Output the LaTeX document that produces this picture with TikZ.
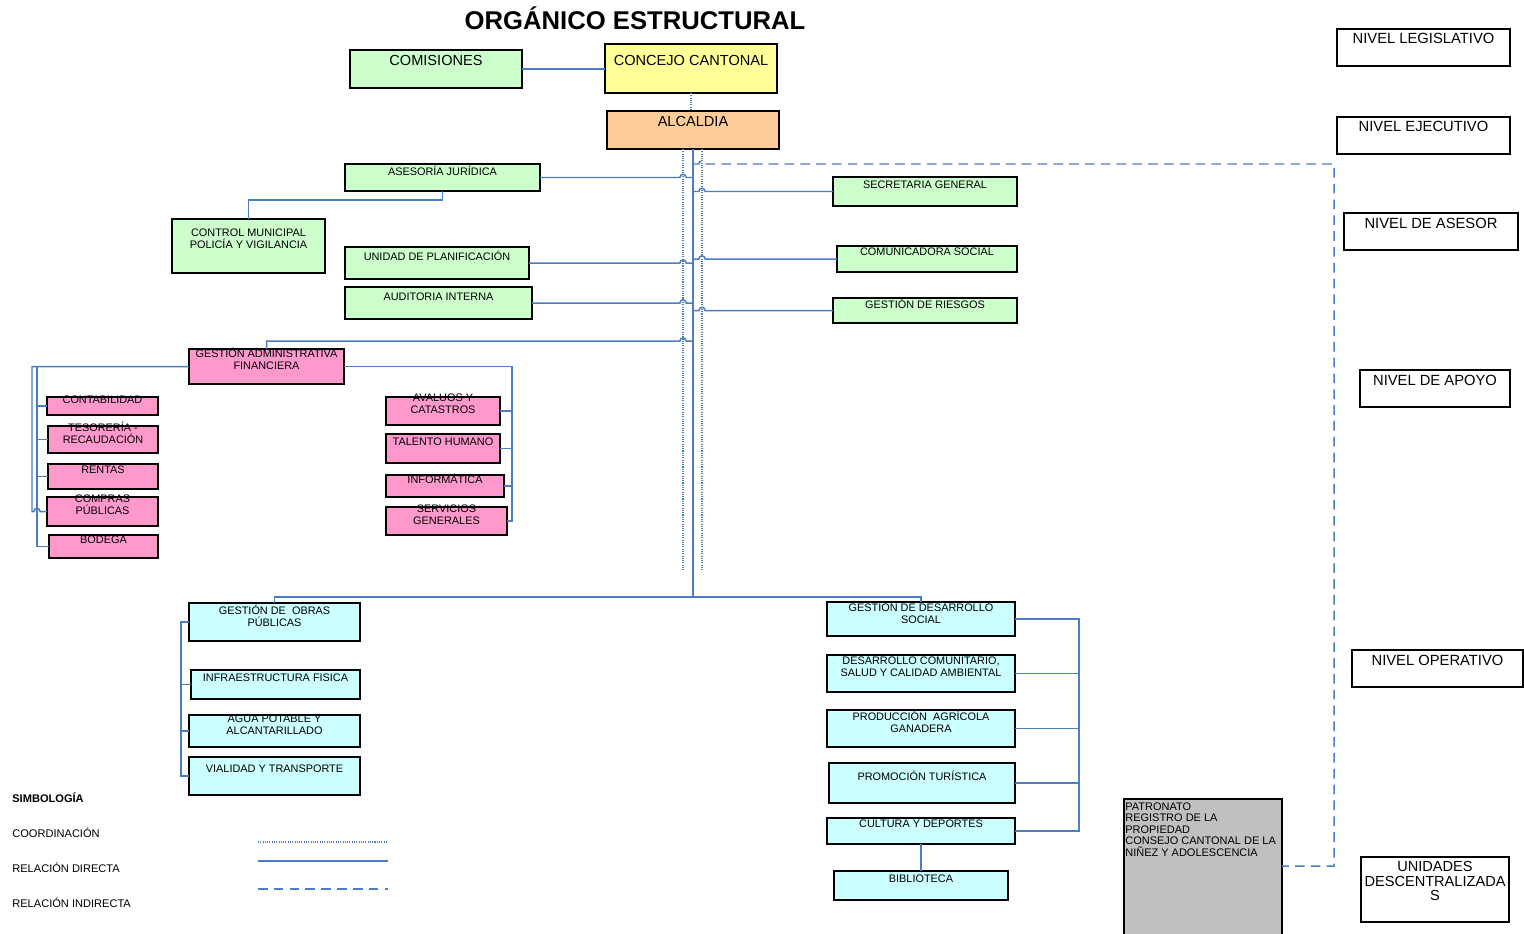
\documentclass[tikz,border=0pt]{standalone}
\usepackage{fontspec}
\setmainfont{Liberation Sans}
\usetikzlibrary{fit,calc}

\definecolor{verde}{RGB}{204,255,204}
\definecolor{rosa}{RGB}{255,153,204}
\definecolor{celeste}{RGB}{204,255,255}
\definecolor{amarillo}{RGB}{255,255,153}
\definecolor{melon}{RGB}{255,204,153}
\definecolor{gris}{RGB}{192,192,192}
\definecolor{azul}{RGB}{74,126,193}

\tikzset{
  caja/.style={draw=black,line width=.8pt,inner sep=0pt,outer sep=0pt},
  txt/.style={font=\fontsize{6.2}{6.8}\selectfont,align=center,inner sep=0pt},
  grande/.style={font=\fontsize{8.3}{9.5}\selectfont},
  nivel/.style={font=\fontsize{8.4}{9.5}\selectfont},
  leyenda/.style={font=\fontsize{6.3}{7}\selectfont},
  directa/.style={azul,line width=.85pt},
  coord/.style={azul,line width=.7pt,dash pattern=on .6pt off .7pt},
  indirecta/.style={azul,line width=.85pt,dash pattern=on 5.5pt off 3.5pt},
}

% caja: [texto]{nombre}{relleno}{x1}{y1}{x2}{y2}{y del texto}{texto}
\newcommand{\caja}[9][]{%
  \node[caja,fill=#3,fit={(#4,#5) (#6,#7)}] (#2) {};
  \node[txt,#1] (#2t) at (#2.center |- 0,#8) {#9};}

\begin{document}
\begin{tikzpicture}[x=.02cm,y=-.02cm]
      \useasboundingbox (0,0) rectangle (1524,933);
      \fill[white] (0,0) rectangle (1524,933);
      \node[font=\fontsize{14.6}{17}\selectfont\bfseries] (titulo) at (635,18) {ORGÁNICO ESTRUCTURAL};

      \caja[grande]{comisiones}{verde}{350}{50}{522}{88}{60}{COMISIONES}
      \caja[grande]{concejo}{amarillo}{605}{44}{777}{93}{60}{CONCEJO CANTONAL}
      \caja[grande]{alcaldia}{melon}{607}{111}{779}{149}{121}{ALCALDIA}

      \caja{asesoria}{verde}{345}{164}{540}{191}{171}{ASESORÍA JURÍDICA}
      \caja{control}{verde}{172}{219}{325}{273}{239}{CONTROL MUNICIPAL\\POLICÍA Y VIGILANCIA}
      \caja{planificacion}{verde}{345}{247}{529}{279}{256}{UNIDAD DE PLANIFICACIÓN}
      \caja{auditoria}{verde}{345}{287}{532}{319}{297}{AUDITORIA INTERNA}
      \caja{secretaria}{verde}{833}{177}{1017}{206}{185}{SECRETARIA GENERAL}
      \caja{comunicadora}{verde}{837}{246}{1017}{272}{252}{COMUNICADORA SOCIAL}
      \caja{riesgos}{verde}{833}{298}{1017}{323}{304}{GESTIÓN DE RIESGOS}

      \caja{gaf}{rosa}{189}{349}{344}{384}{359}{GESTIÓN ADMINISTRATIVA\\FINANCIERA}
      \caja{contabilidad}{rosa}{47}{397}{158}{415}{400}{CONTABILIDAD}
      \caja{tesoreria}{rosa}{48}{426}{158}{453}{433}{TESORERÍA -\\RECAUDACIÓN}
      \caja{rentas}{rosa}{48}{464}{158}{489}{470}{RENTAS}
      \caja{compras}{rosa}{47}{497}{158}{526}{505}{COMPRAS\\PÚBLICAS}
      \caja{bodega}{rosa}{49}{535}{158}{558}{540}{BODEGA}
      \caja{avaluos}{rosa}{386}{397}{500}{425}{404}{AVALUOS Y\\CATASTROS}
      \caja{talento}{rosa}{386}{434}{500}{463}{442}{TALENTO HUMANO}
      \caja{informatica}{rosa}{386}{475}{504}{497}{479}{INFORMÁTICA}
      \caja{servicios}{rosa}{386}{507}{507}{535}{514.5}{SERVICIOS\\GENERALES}

      \caja{obras}{celeste}{189}{603}{360}{641}{616}{GESTIÓN DE\ \ OBRAS\\PÚBLICAS}
      \caja{infraestructura}{celeste}{191}{670}{360}{699}{678}{INFRAESTRUCTURA FISICA}
      \caja{agua}{celeste}{189}{715}{360}{747}{725}{AGUA POTABLE Y\\ALCANTARILLADO}
      \caja{vialidad}{celeste}{189}{757}{360}{795}{769}{VIALIDAD Y TRANSPORTE}
      \caja{desarrollo}{celeste}{827}{602}{1015}{636}{613}{GESTIÓN DE DESARROLLO\\SOCIAL}
      \caja{comunitario}{celeste}{827}{655}{1015}{692}{666.5}{DESARROLLO COMUNITARIO,\\SALUD Y CALIDAD AMBIENTAL}
      \caja{produccion}{celeste}{827}{710}{1015}{747}{722}{PRODUCCIÓN\ \ AGRÍCOLA\\GANADERA}
      \caja{promocion}{celeste}{829}{763}{1015}{803}{776}{PROMOCIÓN TURÍSTICA}
      \caja{cultura}{celeste}{827}{818}{1015}{844}{824}{CULTURA Y DEPORTES}
      \caja{biblioteca}{celeste}{834}{871}{1008}{900}{879}{BIBLIOTECA}

      \node[caja,fill=gris,fit={(1124,799) (1282,940)}] (patronato) {};
      \node[txt,align=left,anchor=west,font=\fontsize{6.25}{6.6}\selectfont] (patronatot) at (1125,829.5)
        {PATRONATO\\REGISTRO DE LA\\PROPIEDAD\\CONSEJO CANTONAL DE LA\\NIÑEZ Y ADOLESCENCIA};

      \caja[nivel]{legislativo}{white}{1337}{29}{1510}{66}{38}{NIVEL LEGISLATIVO}
      \caja[nivel]{ejecutivo}{white}{1337}{117}{1510}{154}{126}{NIVEL EJECUTIVO}
      \caja[nivel]{asesor}{white}{1344}{213}{1518}{250}{223}{NIVEL DE ASESOR}
      \caja[nivel]{apoyo}{white}{1360}{370}{1510}{407}{380}{NIVEL DE APOYO}
      \caja[nivel]{operativo}{white}{1352}{650}{1523}{687}{660}{NIVEL OPERATIVO}
      \caja[font=\fontsize{8.3}{8.5}\selectfont]{descentralizadas}{white}{1361}{857}{1509}{922}{881}{UNIDADES\\DESCENTRALIZADA\\S}

      % ejes
      \coordinate (punteadoL) at (683,149);
      \coordinate (punteadoR) at (702,149);
      \coordinate (esquina) at (1334,164);
      \coordinate (ejeA) at (37,0);
      \coordinate (ejeB) at (32,0);
      \coordinate (ejeC) at (512,0);
      \coordinate (ejeD) at (181,0);
      \coordinate (ejeE) at (1079,0);

      \draw[directa] (comisiones.east) -- (concejo.west |- comisiones.east);%comisiones-concejo
      \draw[coord] (concejo.south) -- (concejo.south |- alcaldia.north);%concejo-alcaldia
      \draw[coord] (punteadoL) -- ++(0,422);
      \draw[coord] (punteadoR) -- ++(0,422);
      \draw[directa,line width=1.1pt] (alcaldia.south) -- (alcaldia.south |- 0,597);

      \foreach \n in {asesoria,planificacion,auditoria}
        \draw[directa] (\n.east) -- ([xshift=-1.8pt]\n.east -| punteadoL) arc[start angle=180,end angle=0,radius=1.8pt] -- (\n.east -| alcaldia.south);
      \foreach \n in {secretaria,comunicadora,riesgos}
        \draw[directa] (\n.west -| alcaldia.south) -- ([xshift=-1.8pt]\n.west -| punteadoR) arc[start angle=180,end angle=0,radius=1.8pt] -- (\n.west);
      \draw[directa] (asesoria.south) -- ++(0,9) -| (control.north);%asesoria-control
      \draw[directa] (gaf.north) -- ++(0,-8) -- ([xshift=-1.8pt]punteadoL |- 0,341) arc[start angle=180,end angle=0,radius=1.8pt] -- (alcaldia.south |- 0,341);
      \draw[indirecta] (alcaldia.south |- esquina) -- ([xshift=-1.8pt]punteadoR |- esquina) arc[start angle=180,end angle=0,radius=1.8pt] -- (esquina) -- (esquina |- 0,866) -- (patronato.east |- 0,866);

      % apoyo
      \draw[directa] (gaf.west) -| (bodega.west -| ejeA) -- (bodega.west);
      \foreach \n in {contabilidad,tesoreria,rentas}
        \draw[directa] (\n.west -| ejeA) -- (\n.west);
      \draw[directa] (gaf.west) -| (compras.west -| ejeB) -- ([xshift=-1.8pt]compras.west -| ejeA) arc[start angle=180,end angle=0,radius=1.8pt] -- (compras.west);
      \draw[directa] (gaf.east) -| (servicios.east -| ejeC) -- (servicios.east);
      \foreach \n in {avaluos,talento,informatica}
        \draw[directa] (\n.east -| ejeC) -- (\n.east);

      % operativo
      \draw[directa] (obras.north) -- ++(0,-6) -| (desarrollo.north);
      \draw[directa] (obras.west) -| (vialidad.west -| ejeD) -- (vialidad.west);
      \foreach \n in {infraestructura,agua}
        \draw[directa] (\n.west -| ejeD) -- (\n.west);
      \draw[directa] (desarrollo.east) -| (cultura.east -| ejeE) -- (cultura.east);
      \foreach \n in {comunitario,produccion,promocion}
        \draw[directa] (\n.east -| ejeE) -- (\n.east);
      \draw[directa] (cultura.south) -- (biblioteca.north);

      % simbologia
      \node[txt,anchor=west,font=\fontsize{6.3}{7}\selectfont\bfseries] (simbologia) at (12,798) {SIMBOLOGÍA};
      \node[txt,leyenda,anchor=west] (coordinacion) at (12,833) {COORDINACIÓN};
      \node[txt,leyenda,anchor=west] (directa) at (12,868) {RELACIÓN DIRECTA};
      \node[txt,leyenda,anchor=west] (indirecta) at (12,903) {RELACIÓN INDIRECTA};
      \draw[coord] (258,842) -- (388,842);
      \draw[directa] (258,861) -- (388,861);
      \draw[indirecta] (258,889) -- (388,889);
\end{tikzpicture}
\end{document}
